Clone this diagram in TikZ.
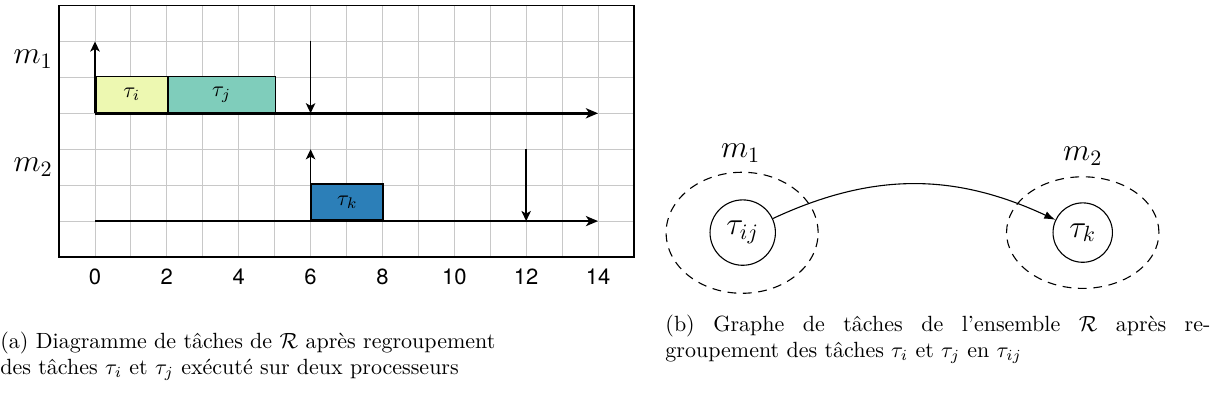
\documentclass[tikz,border=0pt]{standalone}
\usepackage{fontspec}
\newfontfamily\tickfont{TeX Gyre Heros}
\usetikzlibrary{arrows.meta,shapes.geometric}
\definecolor{ci}{HTML}{EDF8B1}
\definecolor{cj}{HTML}{7FCDBB}
\definecolor{ck}{HTML}{2C7FB8}
\definecolor{gridc}{RGB}{200,200,200}
\begin{document}
\begin{tikzpicture}[x=16.33pt,y=16.33pt,
  gridline/.style={draw=gridc, line width=0.45pt},
  frameline/.style={draw=black, line width=0.9pt},
  taskbox/.style={draw=black, line width=0.8pt, minimum height=16.33pt, inner sep=0pt, anchor=south west},
  timeline/.style={line width=1.2pt, -{Stealth[length=5.5pt,width=4.6pt,inset=1.5pt]}},
  evarrow/.style={line width=0.75pt, -{Stealth[length=4.6pt,width=4.3pt,inset=1.2pt]}},
  proclabel/.style={font=\Large, inner sep=0pt},
  ticklabel/.style={font=\tickfont, inner sep=0pt},
  tasknode/.style={draw, circle, line width=0.5pt, inner sep=0pt, font=\Large},
  groupell/.style={draw, ellipse, dash pattern=on 4pt off 3pt, line width=0.5pt, inner sep=0pt},
  captext/.style={anchor=base west, inner sep=0pt, font=\normalsize},
  flow/.style={line width=0.5pt, -{Latex[length=5pt,width=3.6pt]}}
]
\useasboundingbox (-2.644,-4.258) rectangle (31.394,7.153);
% ---------- chart (a)
\draw[gridline, step=1] (-1,0) grid (15,7);
\draw[frameline] (-1,0) rectangle (15,7);
\node[taskbox, fill=ci, minimum width=32.66pt] (ti) at (0,4) {$\tau_i$};
\node[taskbox, fill=cj, minimum width=48.99pt] (tj) at (2,4) {$\tau_j$};
\node[taskbox, fill=ck, minimum width=32.66pt] (tk0) at (6,1) {$\tau_k$};
\coordinate (s1) at (0,4);
\coordinate (e1) at (14,4);
\coordinate (r1) at (0,6);
\coordinate (d1a) at (6,6);
\coordinate (d1b) at (6,4);
\coordinate (s2) at (0,1);
\coordinate (e2) at (14,1);
\coordinate (r2a) at (6,1);
\coordinate (r2b) at (6,3);
\coordinate (d2a) at (12,3);
\coordinate (d2b) at (12,1);
\draw[timeline] (s1) -- (e1);
\draw[timeline] (s2) -- (e2);
\draw[evarrow] (s1) -- (r1);
\draw[evarrow] (d1a) -- (d1b);
\draw[evarrow] (r2a) -- (r2b);
\draw[evarrow] (d2a) -- (d2b);
\node[proclabel] (pm1) at (-1.72,5.5) {$m_1$};
\node[proclabel] (pm2) at (-1.72,2.5) {$m_2$};
\foreach \t in {0,2,...,14} \node[ticklabel] (tl\t) at (\t,-0.55) {\t};
% ---------- graph (b)
\node[groupell, minimum width=69.08pt, minimum height=55.0pt] (g1) at (18.01,0.675) {};
\node[groupell, minimum width=69.27pt, minimum height=50.72pt] (g2) at (27.49,0.68) {};
\node[tasknode, minimum size=29.72pt] (tij) at (18.027,0.68) {$\tau_{ij}$};
\node[tasknode, minimum size=27.0pt] (tk) at (27.49,0.68) {$\tau_k$};
\node[proclabel] (lm1) at (17.97,2.89) {$m_1$};
\node[proclabel] (lm2) at (27.49,2.81) {$m_2$};
\draw[flow] (tij) to[out=25,in=155] (tk);
% ---------- captions
\node[captext] (ca1) at (-2.644,-2.533) {(a) Diagramme de tâches de $\mathcal{R}$ après regroupement};
\node[captext] (ca2) at (-2.644,-3.256) {des tâches $\tau_i$ et $\tau_j$ exécuté sur deux processeurs};
\node[captext] (cb1) at (15.864,-2.076) {\hbox to 247.7pt{(b) Graphe de tâches de l'ensemble $\mathcal{R}$ après re-}};
\node[captext] (cb2) at (15.864,-2.80) {groupement des tâches $\tau_i$ et $\tau_j$ en $\tau_{ij}$};
\end{tikzpicture}
\end{document}
